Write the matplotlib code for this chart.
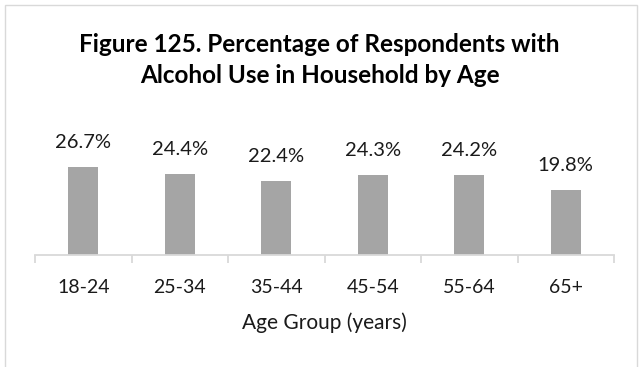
import matplotlib.pyplot as plt
from matplotlib.patches import Rectangle

ages = ['18-24', '25-34', '35-44', '45-54', '55-64', '65+']
pct = [26.7, 24.4, 22.4, 24.3, 24.2, 19.8]

plt.rcParams['font.family'] = ['Lato', 'DejaVu Sans']
txt = '#1a1a1a'

fig = plt.figure(figsize=(6.39, 3.67), dpi=100)
# plot area in pixels: x 35..614, axis line at y=255 from top
ax = fig.add_axes([35 / 639, 112 / 367, 579 / 639, 99 / 367])

x = range(len(ages))
ax.bar(x, pct, width=0.31, color='#a5a5a5')
for i, v in enumerate(pct):
    ax.annotate(f'{v}%', (i, v), xytext=(0, 13.7), textcoords='offset points',
                ha='center', va='baseline', fontsize=14.5, color=txt, annotation_clip=False)

ax.set_xlim(-0.5, len(ages) - 0.5)
ax.set_ylim(0, 30)
ax.set_yticks([])
for s in ['top', 'right', 'left']:
    ax.spines[s].set_visible(False)
ax.spines['bottom'].set_color('#d9d9d9')
ax.spines['bottom'].set_linewidth(1.3)

ax.set_xticks([i - 0.5 for i in range(len(ages) + 1)])
ax.set_xticklabels([])
ax.set_xticks(list(x), minor=True)
ax.set_xticklabels(ages, minor=True, fontsize=14, color=txt)
for lab in ax.get_xticklabels(minor=True):
    lab.set_va('baseline')
ax.tick_params(axis='x', which='major', length=5.5, width=1.3, color='#d9d9d9', direction='out')
ax.tick_params(axis='x', which='minor', length=0, pad=27.4)

fig.text((35 + 614) / 2 / 639, 1 - 329 / 367, 'Age Group (years)', ha='center', va='baseline',
         fontsize=15, color=txt)

fig.text(0.5, 1 - 52 / 367, 'Figure 125. Percentage of Respondents with',
         ha='center', va='baseline', fontsize=17.5, fontweight='bold', color='#000000')
fig.text(0.5, 1 - 83 / 367, 'Alcohol Use in Household by Age',
         ha='center', va='baseline', fontsize=17.5, fontweight='bold', color='#000000')

fig.patches.append(Rectangle((5 / 639, -0.02), 632 / 639, 1.02 - 5 / 367, transform=fig.transFigure,
                             fill=False, edgecolor='#d9d9d9', linewidth=1))

fig.savefig('out.png', dpi=100)
